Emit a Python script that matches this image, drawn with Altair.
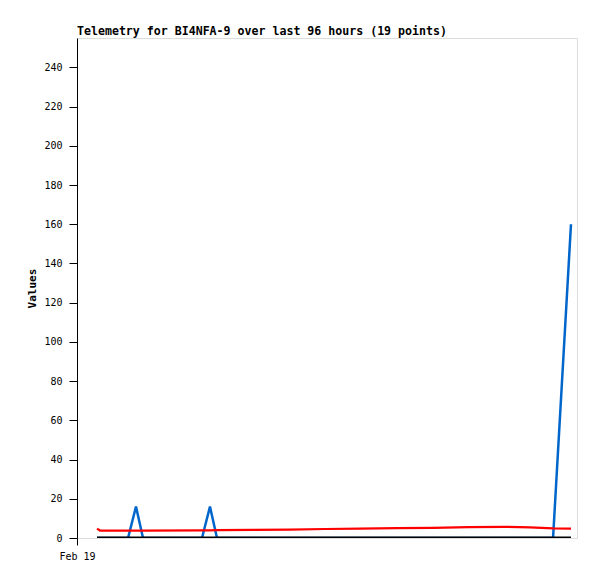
import altair as alt
import pandas as pd

times = [
    "2025-02-19T04:03", "2025-02-19T04:40", "2025-02-19T10:20", "2025-02-19T11:57",
    "2025-02-19T13:22", "2025-02-20T01:19", "2025-02-20T02:56", "2025-02-20T04:21",
    "2025-02-20T11:39", "2025-02-20T19:08", "2025-02-21T02:14", "2025-02-21T09:19",
    "2025-02-21T16:49", "2025-02-22T00:06", "2025-02-22T07:23", "2025-02-22T14:41",
    "2025-02-22T19:45", "2025-02-23T00:25", "2025-02-23T04:03",
]
red_vals = [4.8, 3.8, 3.8, 3.8, 3.8, 3.9, 3.9, 4.0, 4.1, 4.3, 4.6, 4.8, 5.0, 5.2, 5.5, 5.7, 5.4, 4.9, 4.8]
blue_vals = [0, 0, 0, 16, 0, 0, 16, 0, 0, 0, 0, 0, 0, 0, 0, 0, 0, 0, 160]
black_vals = [0] * 19

series_names = ["blue", "red", "black"]
series_colors = ["#0066cc", "#ff0000", "#000000"]
series_widths = [2.5, 2.2, 3]
series_data = [blue_vals, red_vals, black_vals]

title_text = "Telemetry for BI4NFA-9 over last 96 hours (19 points)"
y_title = "Values"
y_ticks = list(range(0, 241, 20))

FONT = "DejaVu Sans Mono"

x_scale = alt.Scale(domain=[alt.DateTime(year=2025, month=2, date=19, hours=0),
                            alt.DateTime(year=2025, month=2, date=23, hours=5, minutes=16)])
y_scale = alt.Scale(domain=[0, 255], nice=False)

x_axis = alt.Axis(values=[alt.DateTime(year=2025, month=2, date=19, hours=0)], format="%b %d",
                  title=None, grid=False, domain=False, tickSize=7, tickColor="#000",
                  labelFont=FONT, labelFontSize=10, labelColor="#000", labelPadding=6,
                  labelAlign="center", labelFlush=False)
y_axis = alt.Axis(values=y_ticks, title=y_title, grid=False, tickSize=8, tickColor="#000",
                  domainColor="#000", labelFont=FONT, labelFontSize=10, labelColor="#000",
                  labelPadding=7, titleFont=FONT, titleFontSize=11, titleFontWeight="bold",
                  titleColor="#000", titlePadding=6)

layers = []
for name, color, w, vals in zip(series_names, series_colors, series_widths, series_data):
    df = pd.DataFrame({"time": times, "value": vals})
    layers.append(
        alt.Chart(df).mark_line(color=color, strokeWidth=w, clip=True).encode(
            x=alt.X("time:T", scale=x_scale, axis=x_axis),
            y=alt.Y("value:Q", scale=y_scale, axis=y_axis),
        )
    )

chart = alt.layer(*layers).properties(
    width=500,
    height=500,
    padding={"left": 69, "top": 30, "right": 12, "bottom": 33},
    autosize=alt.AutoSizeParams(type="none"),
    title=alt.TitleParams(title_text, anchor="start", frame="group", font=FONT, fontSize=11.6,
                          fontWeight="bold", color="#000", offset=0),
).configure_view(stroke="#333333", strokeWidth=1.2).configure(background="white")

chart.save("out.html", embed_options={"renderer": "svg", "actions": False})
